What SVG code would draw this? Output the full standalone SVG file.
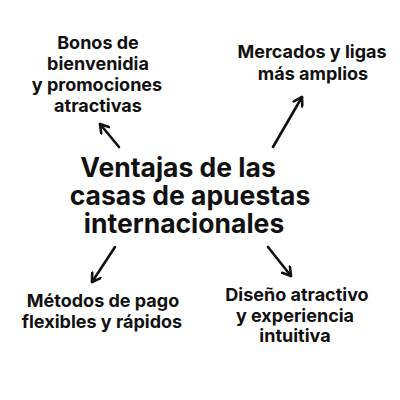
<svg xmlns="http://www.w3.org/2000/svg" width="400" height="400" viewBox="0 0 400 400">
<defs>
<style>
.t{font-family:Inter,"Noto Sans","Liberation Sans",sans-serif;font-weight:700;fill:#111;text-anchor:middle}
.s{font-size:18px}
.b{font-size:26.5px}
.c{stroke:#111;stroke-width:2.6;fill:none;stroke-linecap:round}
</style>
<marker id="ah" viewBox="0 0 12 12" refX="10" refY="6" markerWidth="12" markerHeight="12" markerUnits="userSpaceOnUse" orient="auto">
<path d="M2,1 L10,6 L2,11" fill="none" stroke="#111" stroke-width="2.6" stroke-linecap="round" stroke-linejoin="round"/>
</marker>
</defs>
<rect width="400" height="400" fill="#fff"/>
<g id="center">
<text class="t b"><tspan x="178" y="177">Ventajas de las</tspan><tspan x="190" y="205">casas de apuestas</tspan><tspan x="184" y="233">internacionales</tspan></text>
</g>
<g id="n1">
<text class="t s"><tspan x="98" y="49">Bonos de</tspan><tspan x="98" y="70">bienvenidia</tspan><tspan x="97" y="91">y promociones</tspan><tspan x="98" y="112">atractivas</tspan></text>
</g>
<g id="n2">
<text class="t s"><tspan x="312" y="58">Mercados y ligas</tspan><tspan x="313" y="80">más amplios</tspan></text>
</g>
<g id="n3">
<text class="t s"><tspan x="103" y="307">Métodos de pago</tspan><tspan x="102" y="328">flexibles y rápidos</tspan></text>
</g>
<g id="n4">
<text class="t s"><tspan x="297" y="301">Diseño atractivo</tspan><tspan x="295" y="322">y experiencia</tspan><tspan x="295" y="342">intuitiva</tspan></text>
</g>
<g id="connectors">
<line class="c" x1="119" y1="147" x2="100" y2="124" marker-end="url(#ah)"/>
<line class="c" x1="273" y1="147" x2="302" y2="97" marker-end="url(#ah)"/>
<line class="c" x1="115" y1="247" x2="92" y2="282" marker-end="url(#ah)"/>
<line class="c" x1="268" y1="247" x2="291" y2="276" marker-end="url(#ah)"/>
</g>
</svg>
